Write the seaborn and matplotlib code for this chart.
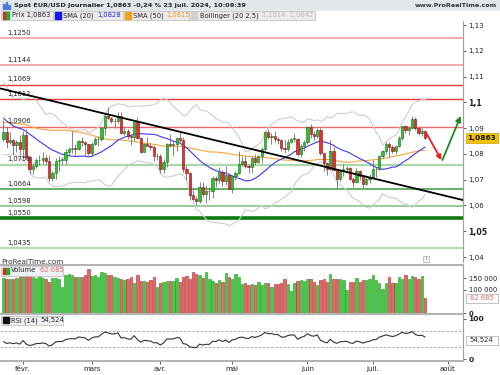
import numpy as np
import pandas as pd
import matplotlib
matplotlib.use("Agg")
import matplotlib.pyplot as plt
import seaborn as sns
from matplotlib.patches import Rectangle
from matplotlib.lines import Line2D

# ---------------- data ----------------
# closes before the visible window (used only to warm up the indicators)
warmup_close = [1.0878, 1.0848, 1.0852, 1.0913, 1.0940, 1.0908, 1.0888, 1.0905, 1.0940, 1.0953, 1.0995, 1.0970, 1.0886,
                1.0883, 1.0835, 1.0796, 1.0764, 1.0792, 1.0762, 1.0763, 1.0793, 1.0874, 1.0991, 1.0894, 1.0922, 1.0981,
                1.0942, 1.1011, 1.1013, 1.1025, 1.1041, 1.1106, 1.1061, 1.1039,
                1.1040, 1.0940, 1.0920, 1.0948, 1.0941, 1.0950, 1.0930, 1.0973, 1.0972, 1.0950, 1.0951, 1.0877, 1.0883,
                1.0875, 1.0896, 1.0885, 1.0856]

dates = pd.bdate_range("2024-01-24", "2024-07-23")

open_ = [1.0856, 1.0885, 1.0845, 1.0854, 1.0834, 1.0845,
         1.0818, 1.0873, 1.0788, 1.0743, 1.0755, 1.0775, 1.0778, 1.0784, 1.0772, 1.0708, 1.0727, 1.0772, 1.0777, 1.0778,
         1.0808, 1.0820, 1.0823, 1.0820, 1.0851, 1.0845, 1.0838,
         1.0804, 1.0838, 1.0856, 1.0856, 1.0899, 1.0947, 1.0938, 1.0926, 1.0926, 1.0947, 1.0882, 1.0887, 1.0869, 1.0864,
         1.0922, 1.0860, 1.0808, 1.0839, 1.0831, 1.0826, 1.0790,
         1.0790, 1.0741, 1.0769, 1.0837, 1.0836, 1.0838, 1.0860, 1.0855, 1.0742, 1.0727, 1.0642, 1.0625, 1.0617, 1.0672,
         1.0644, 1.0655, 1.0655, 1.0705, 1.0698, 1.0729, 1.0693, 1.0719,
         1.0665, 1.0713, 1.0727, 1.0762, 1.0772, 1.0753, 1.0748, 1.0783, 1.0770, 1.0790, 1.0820, 1.0884, 1.0865, 1.0869,
         1.0856, 1.0855, 1.0821, 1.0819, 1.0847, 1.0858, 1.0858, 1.0799, 1.0830,
         1.0848, 1.0905, 1.0876, 1.0868, 1.0894, 1.0802, 1.0765, 1.0741, 1.0810, 1.0739, 1.0703, 1.0733, 1.0740, 1.0745,
         1.0703, 1.0692, 1.0733, 1.0713, 1.0682, 1.0702,
         1.0712, 1.0740, 1.0743, 1.0790, 1.0812, 1.0840, 1.0825, 1.0813, 1.0829, 1.0863, 1.0907, 1.0893, 1.0901, 1.0937,
         1.0899, 1.0882, 1.0889]
high = [1.0932, 1.0905, 1.0885, 1.0857, 1.0855, 1.0873,
        1.0888, 1.0897, 1.0790, 1.0764, 1.0786, 1.0795, 1.0806, 1.0795, 1.0794, 1.0734, 1.0785, 1.0790, 1.0789, 1.0820,
        1.0827, 1.0888, 1.0838, 1.0855, 1.0864, 1.0848, 1.0840,
        1.0845, 1.0866, 1.0868, 1.0906, 1.0958, 1.0982, 1.0944, 1.0940, 1.0964, 1.0961, 1.0906, 1.0896, 1.0877, 1.0929,
        1.0942, 1.0867, 1.0842, 1.0864, 1.0842, 1.0835, 1.0803,
        1.0800, 1.0779, 1.0841, 1.0876, 1.0850, 1.0866, 1.0885, 1.0865, 1.0756, 1.0730, 1.0669, 1.0637, 1.0690, 1.0690,
        1.0678, 1.0671, 1.0713, 1.0713, 1.0750, 1.0738, 1.0754, 1.0726,
        1.0718, 1.0734, 1.0812, 1.0790, 1.0790, 1.0760, 1.0791, 1.0800, 1.0797, 1.0825, 1.0887, 1.0895, 1.0880, 1.0890,
        1.0866, 1.0859, 1.0852, 1.0858, 1.0860, 1.0880, 1.0862, 1.0840, 1.0852,
        1.0910, 1.0915, 1.0888, 1.0902, 1.0902, 1.0805, 1.0769, 1.0852, 1.0825, 1.0743, 1.0738, 1.0761, 1.0752, 1.0748,
        1.0712, 1.0746, 1.0736, 1.0717, 1.0717, 1.0721,
        1.0776, 1.0748, 1.0797, 1.0817, 1.0845, 1.0845, 1.0833, 1.0832, 1.0870, 1.0910, 1.0912, 1.0907, 1.0948, 1.0945,
        1.0906, 1.0902, 1.0894]
low = [1.0849, 1.0821, 1.0838, 1.0796, 1.0807, 1.0795,
       1.0780, 1.0780, 1.0723, 1.0722, 1.0745, 1.0757, 1.0762, 1.0761, 1.0695, 1.0696, 1.0701, 1.0732, 1.0762, 1.0760,
       1.0790, 1.0802, 1.0796, 1.0815, 1.0830, 1.0797, 1.0795,
       1.0793, 1.0835, 1.0832, 1.0850, 1.0872, 1.0935, 1.0918, 1.0902, 1.0921, 1.0878, 1.0872, 1.0856, 1.0836, 1.0851,
       1.0858, 1.0802, 1.0806, 1.0831, 1.0814, 1.0774, 1.0775,
       1.0725, 1.0726, 1.0750, 1.0825, 1.0792, 1.0813, 1.0845, 1.0728, 1.0698, 1.0622, 1.0622, 1.0601, 1.0610, 1.0633,
       1.0610, 1.0623, 1.0630, 1.0672, 1.0686, 1.0676, 1.0679, 1.0662,
       1.0650, 1.0697, 1.0721, 1.0755, 1.0747, 1.0724, 1.0725, 1.0757, 1.0764, 1.0766, 1.0811, 1.0858, 1.0840, 1.0846,
       1.0838, 1.0812, 1.0805, 1.0811, 1.0842, 1.0848, 1.0790, 1.0789, 1.0811,
       1.0840, 1.0860, 1.0853, 1.0860, 1.0795, 1.0733, 1.0718, 1.0738, 1.0737, 1.0668, 1.0695, 1.0714, 1.0731, 1.0697,
       1.0671, 1.0690, 1.0699, 1.0666, 1.0678, 1.0688,
       1.0710, 1.0710, 1.0738, 1.0784, 1.0798, 1.0788, 1.0804, 1.0800, 1.0826, 1.0852, 1.0880, 1.0872, 1.0899, 1.0893,
       1.0874, 1.0871, 1.0856]
close = [1.0885, 1.0845, 1.0854, 1.0834, 1.0845, 1.0818,
         1.0873, 1.0788, 1.0743, 1.0755, 1.0775, 1.0778, 1.0784, 1.0772, 1.0708, 1.0727, 1.0772, 1.0777, 1.0778, 1.0808,
         1.0820, 1.0823, 1.0820, 1.0851, 1.0845, 1.0838, 1.0804,
         1.0838, 1.0856, 1.0856, 1.0899, 1.0947, 1.0938, 1.0926, 1.0926, 1.0947, 1.0882, 1.0887, 1.0869, 1.0864, 1.0922,
         1.0860, 1.0808, 1.0839, 1.0831, 1.0826, 1.0790, 1.0790,
         1.0741, 1.0769, 1.0837, 1.0836, 1.0838, 1.0860, 1.0855, 1.0742, 1.0727, 1.0642, 1.0625, 1.0617, 1.0672, 1.0644,
         1.0655, 1.0655, 1.0705, 1.0698, 1.0729, 1.0693, 1.0719, 1.0665,
         1.0713, 1.0727, 1.0762, 1.0772, 1.0753, 1.0748, 1.0783, 1.0770, 1.0790, 1.0820, 1.0884, 1.0865, 1.0869, 1.0856,
         1.0855, 1.0821, 1.0819, 1.0847, 1.0858, 1.0858, 1.0799, 1.0830, 1.0848,
         1.0905, 1.0876, 1.0868, 1.0894, 1.0802, 1.0765, 1.0741, 1.0810, 1.0739, 1.0703, 1.0733, 1.0740, 1.0745, 1.0703,
         1.0692, 1.0733, 1.0713, 1.0682, 1.0702, 1.0712,
         1.0740, 1.0743, 1.0790, 1.0812, 1.0840, 1.0825, 1.0813, 1.0829, 1.0863, 1.0907, 1.0893, 1.0901, 1.0937, 1.0899,
         1.0882, 1.0889, 1.0863]
volume_k = [149, 146, 146, 146, 150, 160, 162, 160, 158, 155, 152, 158, 149, 146, 132, 152, 149, 146, 113,
            162, 168, 165, 154, 154, 155, 165, 188, 158, 162, 154, 176, 172, 165, 165, 154, 152, 147, 140, 144, 154, 130, 165,
            137, 137, 133, 140, 154, 112, 130, 133, 137, 137, 137, 150, 133, 154, 158, 144, 176, 169, 162, 150, 176, 144,
            137, 130, 140, 133, 171, 154, 144, 168, 154, 125, 130, 122, 125, 119, 133, 122, 130, 130, 112, 125, 125,
            127, 147, 125, 93, 127, 139, 140, 137, 147, 147, 135, 119, 140, 147, 135, 168, 147, 147, 147, 140, 97, 135,
            135, 152, 135, 140, 140, 147, 162, 140, 130, 101, 130, 154, 130, 130, 154, 147, 162, 147, 157, 154, 147, 159,
            62.685]

levels = [1.1250, 1.1144, 1.1069, 1.1012, 1.0906, 1.0758, 1.0664, 1.0598, 1.0550, 1.0435]
level_labels = ["1,1250", "1,1144", "1,1069", "1,1012", "1,0906", "1,0758", "1,0664", "1,0598", "1,0550", "1,0435"]
level_colors = ["#f3a3a3", "#f3a3a3", "#e8383a", "#e8383a", "#ec6a6a",
                "#a9d8a9", "#3d9b3d", "#7fbf7f", "#0d7a0d", "#a9d8a9"]
level_widths = [1.3, 1.3, 1.0, 1.0, 1.0, 1.6, 1.1, 1.1, 2.6, 1.3]

trend_x = [-1.0, 140.6]
trend_y = [1.1054, 1.0621]
scenario_x = [129.4, 134.0, 139.9]
scenario_y = [1.0880, 1.0776, 1.0947]

price_ticks = [1.04, 1.05, 1.06, 1.07, 1.08, 1.09, 1.10, 1.11, 1.12, 1.13]
price_tick_labels = ["1,04", "1,05", "1,06", "1,07", "1,08", "1,09", "1,1", "1,11", "1,12", "1,13"]
month_labels = ["févr.", "mars", "avr.", "mai", "juin", "juil.", "août"]

# ---------------- indicators ----------------
n = len(close)
allc = pd.Series(warmup_close + close)
nw = len(warmup_close)
sma20 = allc.rolling(20).mean().iloc[nw:].to_numpy()
sma50 = allc.rolling(50).mean().iloc[nw:].to_numpy()
std20 = allc.rolling(20).std(ddof=0).iloc[nw:].to_numpy()
bb_up = sma20 + 2.5 * std20
bb_dn = sma20 - 2.5 * std20
delta = allc.diff()
gain = delta.clip(lower=0).ewm(alpha=1 / 14, adjust=False).mean()
loss = (-delta.clip(upper=0)).ewm(alpha=1 / 14, adjust=False).mean()
rsi = (100 - 100 / (1 + gain / loss)).iloc[nw:].to_numpy()

idx = np.arange(n)
o = np.array(open_); h = np.array(high); l = np.array(low); c = np.array(close)
up = c >= o
vol = np.array(volume_k) * 1000

df = pd.DataFrame({"i": idx, "sma20": sma20, "sma50": sma50, "bbu": bb_up, "bbd": bb_dn, "rsi": rsi})

# month positions (bar index of first trading day in each month)
month_pos = []
for m in [2, 3, 4, 5, 6, 7]:
    month_pos.append(int(np.argmax(dates.month == m)))
month_pos.append(n + len(pd.bdate_range("2024-07-24", "2024-07-31")))

# ---------------- figure ----------------
sns.set_theme(style="white")
plt.rcParams["font.family"] = ["DejaVu Sans"]
W, H = 500, 375
fig = plt.figure(figsize=(5, 3.75), dpi=100)
fig.patch.set_facecolor("white")


def rect(x0, y0, x1, y1):
    return [x0 / W, 1 - y1 / H, (x1 - x0) / W, (y1 - y0) / H]


def fx(px):
    return px / W


def fy(py):
    return 1 - py / H


XL = (-1.04, 140.6)
ax = fig.add_axes(rect(0, 20, 463, 262))
axv = fig.add_axes(rect(0, 265, 463, 313))
axr = fig.add_axes(rect(0, 314, 463, 361))
for a in (ax, axv, axr):
    a.set_facecolor("white")
    a.set_xlim(*XL)
    for s in a.spines.values():
        s.set_visible(False)
    a.spines["right"].set_visible(True)
    a.spines["right"].set_color("#a0a0a0")
    a.spines["right"].set_linewidth(0.8)

# ----- main price panel -----
ax.set_ylim(1.03807, 1.13194)
for lv, col, lw, lab in zip(levels, level_colors, level_widths, level_labels):
    ax.axhline(lv, color=col, lw=lw, zorder=1)
    ax.text(1.3, lv + 0.0009, lab, fontsize=4.9, color="#222222", ha="left", va="bottom", zorder=6)

sns.lineplot(data=df, x="i", y="bbu", ax=ax, color="#cdcdcd", lw=0.8, zorder=2)
sns.lineplot(data=df, x="i", y="bbd", ax=ax, color="#cdcdcd", lw=0.8, zorder=2)
sns.lineplot(data=df, x="i", y="sma50", ax=ax, color="#f4a53a", lw=0.8, zorder=3)
sns.lineplot(data=df, x="i", y="sma20", ax=ax, color="#3a3af5", lw=0.8, zorder=3)

ax.vlines(idx, l, h, color="#707070", lw=0.6, zorder=4)
body_lo = np.minimum(o, c)
body_h = np.maximum(np.abs(c - o), 0.00025)
ax.bar(idx[up], body_h[up], bottom=body_lo[up], width=0.68, color="#2fc02f", edgecolor="#136b13", lw=0.4, zorder=5)
ax.bar(idx[~up], body_h[~up], bottom=body_lo[~up], width=0.68, color="#e23131", edgecolor="#7a1010", lw=0.4, zorder=5)

ax.plot(trend_x, trend_y, color="black", lw=1.3, zorder=6)
ax.annotate("", xy=(scenario_x[1], scenario_y[1]), xytext=(scenario_x[0], scenario_y[0]),
            arrowprops=dict(arrowstyle="-|>", color="#ee1c1c", lw=1.3, mutation_scale=7, shrinkA=0, shrinkB=0), zorder=7)
ax.annotate("", xy=(scenario_x[2], scenario_y[2]), xytext=(scenario_x[1] + 0.3, scenario_y[1]),
            arrowprops=dict(arrowstyle="-|>", color="#1f8a1f", lw=1.3, mutation_scale=8, shrinkA=0, shrinkB=0), zorder=7)

ax.yaxis.tick_right()
ax.set_yticks(price_ticks)
ax.set_yticklabels(price_tick_labels)
ax.tick_params(axis="y", labelsize=5, length=2, width=0.5, pad=2, colors="#222222", right=True)
for t, lab in zip(ax.get_yticklabels(), price_tick_labels):
    if lab in ("1,1", "1,05"):
        t.set_fontweight("bold")
        t.set_fontsize(5.6)
ax.set_xticks([]); ax.set_xlabel(""); ax.set_ylabel("")

# ----- volume panel -----
axv.set_ylim(0, 206000)
axv.spines["top"].set_visible(True)
axv.spines["top"].set_color("#a8a8a8")
axv.bar(idx[up], vol[up], width=0.72, color="#44c944", edgecolor="#1f9a1f", lw=0.4)
axv.bar(idx[~up], vol[~up], width=0.72, color="#e06a6a", edgecolor="#b22626", lw=0.4)
axv.yaxis.tick_right()
axv.set_yticks([0, 100000, 150000])
axv.set_yticklabels(["0", "100 000", "150 000"])
axv.tick_params(axis="y", labelsize=4.9, length=2, width=0.5, pad=2, colors="#222222", right=True)
axv.get_yticklabels()[0].set_fontweight("bold")
axv.set_xticks([])

# ----- RSI panel -----
axr.set_ylim(-4.9, 112.2)
axr.spines["top"].set_visible(True)
axr.spines["top"].set_color("#a8a8a8")
axr.spines["bottom"].set_visible(True)
axr.spines["bottom"].set_color("#a8a8a8")
axr.axhline(70, color="#a0a0a0", lw=0.6, ls=(0, (3, 2)))
axr.axhline(30, color="#a0a0a0", lw=0.6, ls=(0, (3, 2)))
sns.lineplot(data=df, x="i", y="rsi", ax=axr, color="#333333", lw=0.8)
axr.yaxis.tick_right()
axr.set_yticks([0, 100])
axr.set_yticklabels(["0", "100"])
axr.tick_params(axis="y", labelsize=5.4, length=2, width=0.5, pad=2, colors="#222222", right=True)
for t in axr.get_yticklabels():
    t.set_fontweight("bold")
axr.set_xticks(month_pos)
axr.set_xticklabels(month_labels)
axr.tick_params(axis="x", labelsize=5, length=2, width=0.5, pad=1.5, colors="#222222", bottom=True)
axr.set_xlabel(""); axr.set_ylabel("")
axv.set_xlabel(""); axv.set_ylabel("")

# ----- header -----
fig.patches.append(Rectangle((0, fy(10.5)), 1, 10.5 / H, transform=fig.transFigure, color="#e1e7eb", zorder=0))
fig.patches.append(Rectangle((0, fy(20)), 1, 9.5 / H, transform=fig.transFigure, color="#ffffff", zorder=0))
for k, (bx, bh) in enumerate([(3.0, 5), (5.5, 7), (8.0, 4)]):
    fig.patches.append(Rectangle((fx(bx), fy(9)), 1.6 / W, bh / H, transform=fig.transFigure, color="#4a7fd4", zorder=1))
fig.text(fx(14), fy(5.5), "Spot EUR/USD Journalier 1,0863 -0,24 % 23 juil. 2024, 10:09:39",
         fontsize=4.65, fontweight="bold", color="#222222", ha="left", va="center")
fig.text(fx(497), fy(5.5), "www.ProRealTime.com", fontsize=4.6, fontweight="bold", color="#333333",
         ha="right", va="center")

# legend row
fig.patches.append(Rectangle((fx(1), fy(20)), 314 / W, 9 / H, transform=fig.transFigure,
                             facecolor="#ececec", edgecolor="#b8b8b8", lw=0.5, zorder=1))
for sx in (53, 123, 189):
    fig.lines.append(Line2D([fx(sx), fx(sx)], [fy(11), fy(20)], transform=fig.transFigure, color="#b8b8b8", lw=0.5))
fig.patches.append(Rectangle((fx(3), fy(18.5)), 3 / W, 6 / H, transform=fig.transFigure, color="#d42b2b", zorder=2))
fig.patches.append(Rectangle((fx(6), fy(18.5)), 3 / W, 6 / H, transform=fig.transFigure, color="#2aaa2a", zorder=2))
fig.patches.append(Rectangle((fx(55), fy(18.5)), 6 / W, 6 / H, transform=fig.transFigure, color="#1515ee", zorder=2))
fig.patches.append(Rectangle((fx(125), fy(18.5)), 6 / W, 6 / H, transform=fig.transFigure, color="#f6a020", zorder=2))
fig.patches.append(Rectangle((fx(191), fy(18.5)), 6 / W, 6 / H, transform=fig.transFigure, color="#cfcfcf", zorder=2))
ly = fy(15.5)
fig.text(fx(12), ly, "Prix 1,0863", fontsize=4.9, color="#222222", va="center")
fig.text(fx(63), ly, "SMA (20)", fontsize=4.9, color="#222222", va="center")
fig.text(fx(97), ly, "1,0828", fontsize=4.9, color="#2020ee", va="center")
fig.text(fx(133), ly, "SMA (50)", fontsize=4.9, color="#222222", va="center")
fig.text(fx(166), ly, "1,0815", fontsize=4.9, color="#f39a1a", va="center")
fig.text(fx(200), ly, "Bollinger (20 2,5)", fontsize=4.9, color="#222222", va="center")
fig.text(fx(262), ly, "1,1014  1,0642", fontsize=4.9, color="#b8b8b8", va="center")

# price box
fig.patches.append(Rectangle((fx(465.5), fy(143)), 32 / W, 10 / H, transform=fig.transFigure,
                             facecolor="#f2c200", edgecolor="#c9a000", lw=0.5, zorder=5))
fig.text(fx(481.5), fy(138), "1,0863", fontsize=5.3, fontweight="bold", color="#111111", ha="center", va="center", zorder=6)

fig.text(fx(1.5), fy(262), "ProRealTime.com", fontsize=5.2, color="#333333", ha="left", va="center")

# volume label
fig.patches.append(Rectangle((fx(1), fy(275.5)), 62 / W, 10 / H, transform=fig.transFigure,
                             facecolor="#eef1f3", edgecolor="#b8b8b8", lw=0.5, zorder=5))
fig.patches.append(Rectangle((fx(3), fy(273.5)), 3 / W, 6 / H, transform=fig.transFigure, color="#d42b2b", zorder=6))
fig.patches.append(Rectangle((fx(6), fy(273.5)), 3 / W, 6 / H, transform=fig.transFigure, color="#2aaa2a", zorder=6))
fig.text(fx(11), fy(270.5), "Volume", fontsize=4.9, color="#222222", va="center", zorder=7)
fig.text(fx(40), fy(270.5), "62 685", fontsize=4.9, color="#e46a6a", va="center", zorder=7)
fig.patches.append(Rectangle((fx(465.5), fy(303)), 32 / W, 9.5 / H, transform=fig.transFigure,
                             facecolor="white", edgecolor="#a8a8a8", lw=0.5, zorder=5))
fig.text(fx(481.5), fy(298.3), "62 685", fontsize=4.9, color="#e46a6a", ha="center", va="center", zorder=6)

# RSI label
fig.patches.append(Rectangle((fx(1), fy(325)), 62 / W, 9.5 / H, transform=fig.transFigure,
                             facecolor="#eef1f3", edgecolor="#b8b8b8", lw=0.5, zorder=5))
fig.patches.append(Rectangle((fx(3), fy(323.3)), 6 / W, 6 / H, transform=fig.transFigure, color="#111111", zorder=6))
fig.text(fx(11), fy(320.3), "RSI (14)", fontsize=4.9, color="#222222", va="center", zorder=7)
fig.text(fx(40), fy(320.3), "54,524", fontsize=4.9, color="#222222", va="center", zorder=7)
fig.patches.append(Rectangle((fx(465.5), fy(345)), 32 / W, 9.5 / H, transform=fig.transFigure,
                             facecolor="white", edgecolor="#a8a8a8", lw=0.5, zorder=5))
fig.text(fx(481.5), fy(340.3), "54,524", fontsize=4.9, color="#222222", ha="center", va="center", zorder=6)

# small info icon
fig.patches.append(Rectangle((fx(423), fy(262)), 6 / W, 6 / H, transform=fig.transFigure,
                             facecolor="#f4f4f4", edgecolor="#9a9a9a", lw=0.4, zorder=6))
fig.text(fx(426), fy(259), "i", fontsize=3.8, color="#666666", ha="center", va="center", zorder=7)

fig.savefig("out.png", dpi=100, facecolor="white")
